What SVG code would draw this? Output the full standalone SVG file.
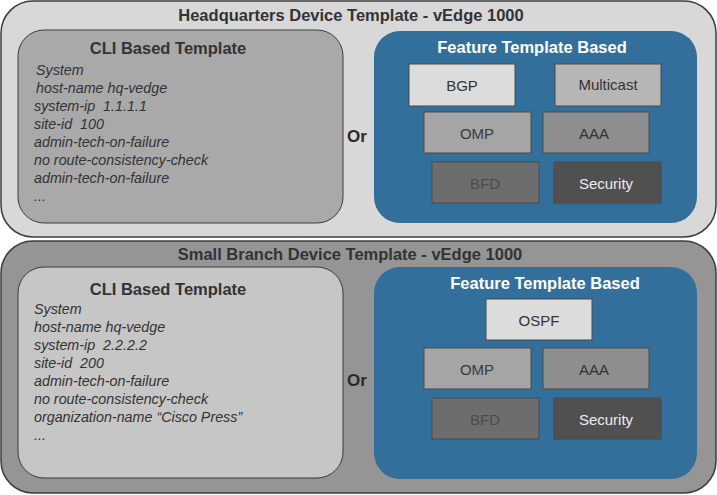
<svg xmlns="http://www.w3.org/2000/svg" width="717" height="495" viewBox="0 0 717 495">
<style>
.outer{stroke:#3c3c3d;stroke-width:1.5}
.cli{stroke:#3c3c3d;stroke-width:1}
.blue{fill:#336f9b}
.box{stroke:#4a4a4b;stroke-width:1}
.title{font-family:"Liberation Sans",Arial,sans-serif;font-weight:bold;font-size:16.5px;fill:#333;text-anchor:middle}
.ftitle{font-family:"Liberation Sans",Arial,sans-serif;font-weight:bold;font-size:16.5px;fill:#fff;text-anchor:middle}
.body{font-family:"Liberation Sans",Arial,sans-serif;font-style:italic;font-size:14.3px;fill:#333;white-space:pre}
.lbl{font-family:"Liberation Sans",Arial,sans-serif;font-size:15px;text-anchor:middle}
.or{font-family:"Liberation Sans",Arial,sans-serif;font-weight:bold;font-size:17px;fill:#2a2a2a}
</style>
<g id="hq">
<rect class="outer" x="1" y="1" width="715" height="236" rx="32" fill="#d8d8d9"/>
<text class="title" x="351" y="21">Headquarters Device Template - vEdge 1000</text>
</g>
<g id="hq-cli">
<rect class="cli" x="18" y="30" width="325" height="193" rx="26" fill="#a9a9aa"/>
<text class="title" x="168" y="54">CLI Based Template</text>
<text class="body" x="36" y="75">System</text>
<text class="body" x="36" y="93">host-name hq-vedge</text>
<text class="body" x="34" y="111" xml:space="preserve">system-ip  1.1.1.1</text>
<text class="body" x="34" y="129" xml:space="preserve">site-id  100</text>
<text class="body" x="34" y="147">admin-tech-on-failure</text>
<text class="body" x="34" y="165">no route-consistency-check</text>
<text class="body" x="34" y="183">admin-tech-on-failure</text>
<text class="body" x="34" y="201">...</text>
</g>
<g id="hq-or"><text class="or" x="347" y="142">Or</text></g>
<g id="hq-feature">
<rect class="blue" x="374" y="31" width="323" height="192" rx="26"/>
<text class="ftitle" x="532" y="53">Feature Template Based</text>
</g>
<g id="hq-bgp"><rect class="box" x="409" y="64" width="106" height="42" fill="#dcdcdd"/><text class="lbl" x="462" y="91" fill="#333">BGP</text></g>
<g id="hq-multicast"><rect class="box" x="555" y="64" width="106" height="42" fill="#b6b6b7"/><text class="lbl" x="608" y="90" fill="#333" font-size="16">Multicast</text></g>
<g id="hq-omp"><rect class="box" x="424" y="112" width="107" height="41" fill="#a5a5a6"/><text class="lbl" x="477" y="139" fill="#3a3a3a">OMP</text></g>
<g id="hq-aaa"><rect class="box" x="543" y="112" width="106" height="41" fill="#8e8e8f"/><text class="lbl" x="594" y="139" fill="#333">AAA</text></g>
<g id="hq-bfd"><rect class="box" x="432" y="162" width="107" height="41" fill="#6d6d6e"/><text class="lbl" x="485" y="189" fill="#4c4c4d">BFD</text></g>
<g id="hq-security"><rect class="box" x="554" y="162" width="107" height="41" fill="#505051"/><text class="lbl" x="606" y="189" fill="#ececec">Security</text></g>

<g id="branch">
<rect class="outer" x="1" y="241" width="715" height="252" rx="32" fill="#959596"/>
<text class="title" x="350" y="260">Small Branch Device Template - vEdge 1000</text>
</g>
<g id="branch-cli">
<rect class="cli" x="18" y="267" width="325" height="211" rx="26" fill="#c6c6c7"/>
<text class="title" x="168" y="295">CLI Based Template</text>
<text class="body" x="34" y="314">System</text>
<text class="body" x="34" y="332">host-name hq-vedge</text>
<text class="body" x="34" y="350" xml:space="preserve">system-ip  2.2.2.2</text>
<text class="body" x="34" y="368" xml:space="preserve">site-id  200</text>
<text class="body" x="34" y="386">admin-tech-on-failure</text>
<text class="body" x="34" y="404">no route-consistency-check</text>
<text class="body" x="34" y="422">organization-name “Cisco Press”</text>
<text class="body" x="34" y="440">...</text>
</g>
<g id="branch-or"><text class="or" x="347" y="386">Or</text></g>
<g id="branch-feature">
<rect class="blue" x="374" y="267" width="323" height="212" rx="26"/>
<text class="ftitle" x="545" y="289">Feature Template Based</text>
</g>
<g id="branch-ospf"><rect class="box" x="486" y="299" width="106" height="41" fill="#dcdcdd"/><text class="lbl" x="539" y="326" fill="#333">OSPF</text></g>
<g id="branch-omp"><rect class="box" x="424" y="348" width="107" height="41" fill="#a5a5a6"/><text class="lbl" x="477" y="375" fill="#3a3a3a">OMP</text></g>
<g id="branch-aaa"><rect class="box" x="543" y="348" width="106" height="41" fill="#8e8e8f"/><text class="lbl" x="594" y="375" fill="#333">AAA</text></g>
<g id="branch-bfd"><rect class="box" x="432" y="398" width="107" height="41" fill="#6d6d6e"/><text class="lbl" x="485" y="425" fill="#4c4c4d">BFD</text></g>
<g id="branch-security"><rect class="box" x="554" y="398" width="107" height="41" fill="#505051"/><text class="lbl" x="606" y="425" fill="#ececec">Security</text></g>
<g id="connectors"/>
</svg>
